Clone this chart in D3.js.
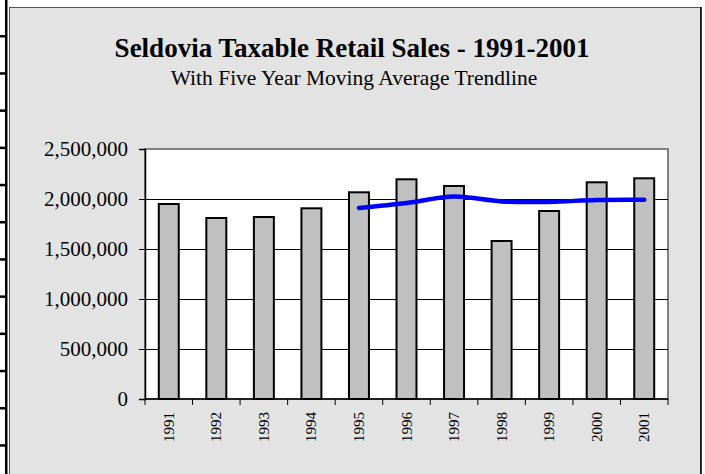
<!DOCTYPE html>
<html><head><meta charset="utf-8">
<script src="https://cdn.jsdelivr.net/npm/d3@7"></script>
<style>body{margin:0;background:#fff;overflow:hidden} svg{display:block}</style>
</head><body><svg id="c" width="705" height="474"></svg>
<script>
const years = ["1991","1992","1993","1994","1995","1996","1997","1998","1999","2000","2001"];
const sales = [1950000,1810000,1820000,1907000,2067000,2197000,2130000,1580000,1880000,2167000,2207000];
const maYears = ["1995","1996","1997","1998","1999","2000","2001"];
const movingAvg = [1911000,1960000,2024000,1976000,1971000,1991000,1993000];
const yTicks = [0,500000,1000000,1500000,2000000,2500000];
const title = "Seldovia Taxable Retail Sales - 1991-2001";
const subtitle = "With Five Year Moving Average Trendline";

const svg = d3.select("#c");
const font = "'Liberation Serif','Times New Roman',serif";

// spreadsheet-cell artifact on the left edge
svg.append("rect").attr("x",5).attr("y",0).attr("width",2.5).attr("height",474).attr("fill","#000");
d3.range(36, 474, 37.2).forEach(y=>{
  svg.append("rect").attr("x",0).attr("y",y-1).attr("width",6).attr("height",2.5).attr("fill","#000");
});

// chart panel
svg.append("rect").attr("x",9.5).attr("y",7.5).attr("width",691).attr("height",480)
  .attr("fill","#e3e3e3").attr("stroke","#555").attr("stroke-width",1);
svg.append("line").attr("x1",701).attr("x2",701).attr("y1",7).attr("y2",474).attr("stroke","#000").attr("stroke-width",1.5);

const m = {l:145, r:668, t:149, b:399};
const x = d3.scaleBand().domain(years).range([m.l, m.r]).paddingInner(0.58).paddingOuter(0.29);
const xb = d3.scaleBand().domain(years).range([m.l, m.r]);
const y = d3.scaleLinear().domain([0,2500000]).range([m.b, m.t]);

svg.append("rect").attr("x",m.l).attr("y",m.t).attr("width",m.r-m.l).attr("height",m.b-m.t)
  .attr("fill","#fff").attr("stroke","#808080").attr("stroke-width",2);

// gridlines
svg.append("g").selectAll("line").data(yTicks.filter(d=>d>0 && d<2500000)).join("line")
  .attr("x1",m.l).attr("x2",m.r).attr("y1",d=>Math.round(y(d))+0.5).attr("y2",d=>Math.round(y(d))+0.5)
  .attr("stroke","#000").attr("stroke-width",1);

// bars
svg.append("g").selectAll("rect").data(years).join("rect")
  .attr("x",(d)=>x(d)).attr("width",x.bandwidth())
  .attr("y",(d,i)=>y(sales[i])).attr("height",(d,i)=>m.b-y(sales[i]))
  .attr("fill","#c0c0c0").attr("stroke","#000").attr("stroke-width",2);

// y axis
const ya = d3.axisLeft(y).tickValues(yTicks).tickSize(6).tickPadding(11).tickFormat(d3.format(","));
const yg = svg.append("g").attr("transform",`translate(${m.l},0)`).call(ya);
yg.select(".domain").attr("stroke","#000").attr("stroke-width",1.5);
yg.selectAll(".tick line").attr("stroke","#000");
yg.selectAll("text").attr("font-family",font).attr("font-size",21).attr("fill","#000");

// x axis
const xTickPos = years.map(d=>xb(d)).concat([m.r]);
const xg = svg.append("g");
xg.append("line").attr("x1",m.l).attr("x2",m.r).attr("y1",m.b).attr("y2",m.b).attr("stroke","#000").attr("stroke-width",1.5);
xg.selectAll("line.t").data(xTickPos).join("line").attr("class","t")
  .attr("x1",d=>d).attr("x2",d=>d).attr("y1",m.b).attr("y2",m.b+6).attr("stroke","#000");
xg.selectAll("text").data(years).join("text")
  .attr("transform",d=>`translate(${xb(d)+xb.bandwidth()/2+5},${m.b+13}) rotate(-90)`)
  .attr("text-anchor","end").attr("font-family",font).attr("font-size",15).text(d=>d);

// moving average line
const line = d3.line().x(d=>xb(d.yr)+xb.bandwidth()/2).y(d=>y(d.v)).curve(d3.curveCatmullRom.alpha(0.5));
svg.append("path").datum(maYears.map((yr,i)=>({yr, v:movingAvg[i]})))
  .attr("d",line).attr("fill","none").attr("stroke","#0000ff").attr("stroke-width",4.5).attr("stroke-linecap","round");

// titles
svg.append("text").attr("x",352).attr("y",57).attr("text-anchor","middle").attr("font-family",font)
  .attr("font-weight","bold").attr("font-size",27).text(title);
svg.append("text").attr("x",354).attr("y",85).attr("text-anchor","middle").attr("font-family",font)
  .attr("font-size",21.5).text(subtitle);
</script></body></html>
